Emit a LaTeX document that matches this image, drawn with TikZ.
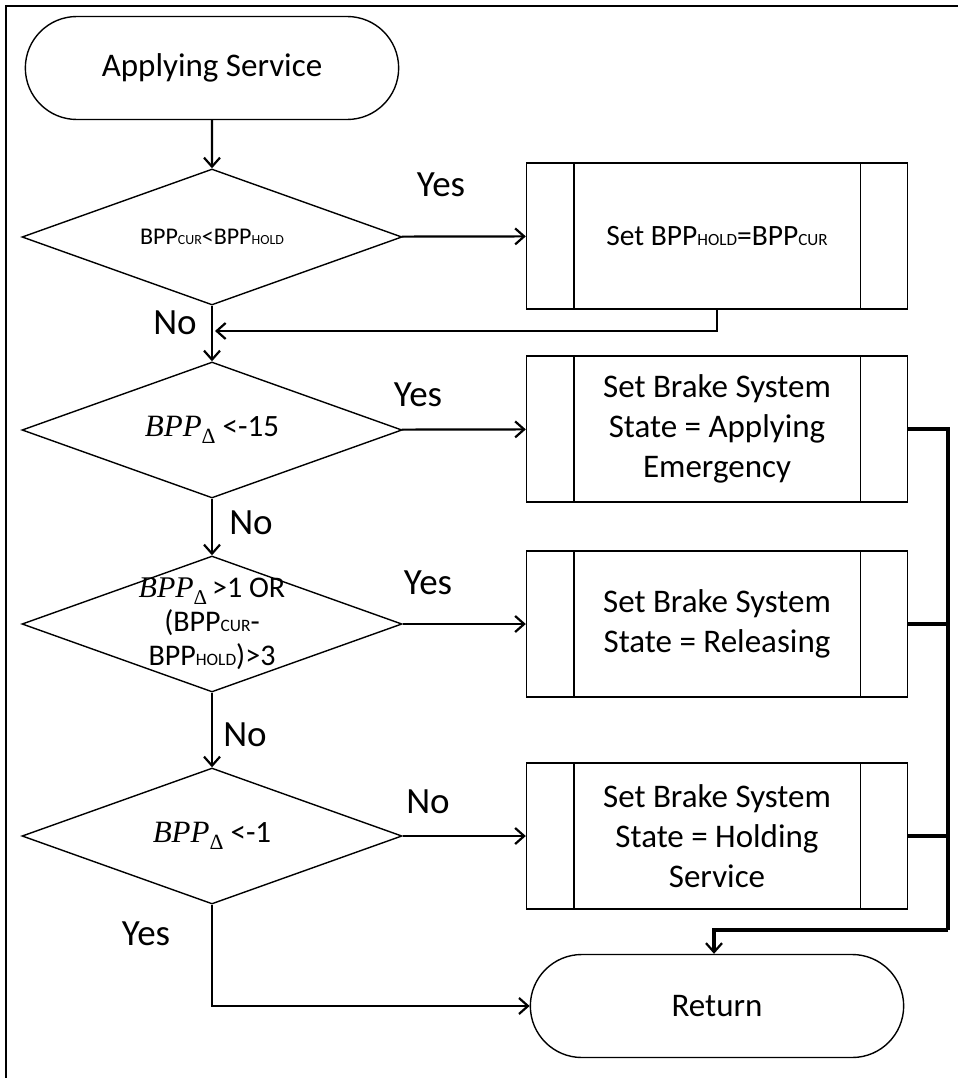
\documentclass[tikz,border=0pt]{standalone}
\usepackage{fontspec}
\setmainfont{Carlito}
\newfontfamily\serifit{Liberation Serif}
\usetikzlibrary{shapes.geometric,shapes.misc,arrows.meta}
\newcommand{\subtag}[1]{\scalebox{0.58}{#1}}
\newcommand{\bppd}{{\serifit\itshape BPP}\raisebox{-0.22em}{\scalebox{0.7}{\serifit Δ}}}
\begin{document}
\begin{tikzpicture}[x=1pt,y=-1pt,
    txt/.style={font=\fontsize{33}{40}\selectfont, align=center},
    term/.style={txt, draw, line width=1.4pt, rounded rectangle, minimum width=380pt, minimum height=103pt},
    cond/.style={draw, line width=1.4pt, diamond, minimum width=380pt, minimum height=136pt, inner sep=0pt},
    proc/.style={txt, draw, line width=1.4pt, minimum width=381pt, minimum height=146pt},
    lbl/.style={font=\fontsize{37}{40}\selectfont},
    arr/.style={-{Straight Barb[length=9pt,width=16pt,line width=2.2pt]}, line width=2.2pt},
    bus/.style={line width=3.6pt}]
    \useasboundingbox (0,0) rectangle (958,1078);
    \draw[line width=1.5pt] (6,1078) -- (6,6) -- (958,6);

    % left column
    \node[term] (start) at (212,68) {Applying Service};
    \node[cond, label={[txt, font=\fontsize{24}{28}\selectfont]center:BPP\subtag{CUR}<BPP\subtag{HOLD}}] (d1) at (212,237) {};
    \node[cond, label={[txt, font=\fontsize{31}{34}\selectfont]center:\bppd\ <-15}] (d2) at (212,430) {};
    \node[cond, label={[txt, font=\fontsize{30}{34}\selectfont]center:\bppd\,>1 OR\\(BPP\subtag{CUR}-\\BPP\subtag{HOLD})>3}] (d3) at (212,624) {};
    \node[cond, label={[txt, font=\fontsize{31}{34}\selectfont]center:\bppd\ <-1}] (d4) at (212,836) {};

    % right column
    \node[proc, font=\fontsize{29.5}{36}\selectfont] (b1) at (717,236) {Set BPP\subtag{HOLD}=BPP\subtag{CUR}};
    \node[proc] (b2) at (717,429) {Set Brake System\\State = Applying\\Emergency};
    \node[proc] (b3) at (717,624) {Set Brake System\\State = Releasing};
    \node[proc] (b4) at (717,836) {Set Brake System\\State = Holding\\Service};
    \node[term] (ret) at (717,1006) {Return};
    \foreach \b in {b1,b2,b3,b4}
    {
        \draw[line width=1.4pt] ([xshift=48pt]\b.north west) -- ([xshift=48pt]\b.south west);
        \draw[line width=1.4pt] ([xshift=-48pt]\b.north east) -- ([xshift=-48pt]\b.south east);
    }

    \coordinate (m1) at (215,331);
    \coordinate (bt) at (948,429);
    \coordinate (bb) at (948,930);

    \draw[arr] (start) -- (d1);
    \draw[arr] (d1) -- (b1);
    \draw[arr] (d1) -- (d2);
    \draw[arr] (b1.south) |- (m1);
    \draw[arr] (d2) -- (b2);
    \draw[arr] (d2) -- (d3);
    \draw[arr] (d3) -- (b3);
    \draw[arr] (d3) -- (d4);
    \draw[arr] (d4) -- (b4);
    \draw[arr] (d4.south) |- (ret.west);

    \draw[bus] (b2.east) -- (bt) -- (bb);
    \draw[bus] (b3.east) -- (b3.east -| bt);
    \draw[bus] (b4.east) -- (b4.east -| bt);
    \draw[arr, line width=3.6pt] (bb) -| ([xshift=-3pt]ret.north);

    \node[lbl] (y1) at (441,185) {Yes};
    \node[lbl] (n1) at (175,323) {No};
    \node[lbl] (y2) at (418,395) {Yes};
    \node[lbl] (n2) at (251,523) {No};
    \node[lbl] (y3) at (428,583) {Yes};
    \node[lbl] (n3) at (245,735) {No};
    \node[lbl] (n4) at (428,802) {No};
    \node[lbl] (y4) at (146,934) {Yes};
\end{tikzpicture}
\end{document}
